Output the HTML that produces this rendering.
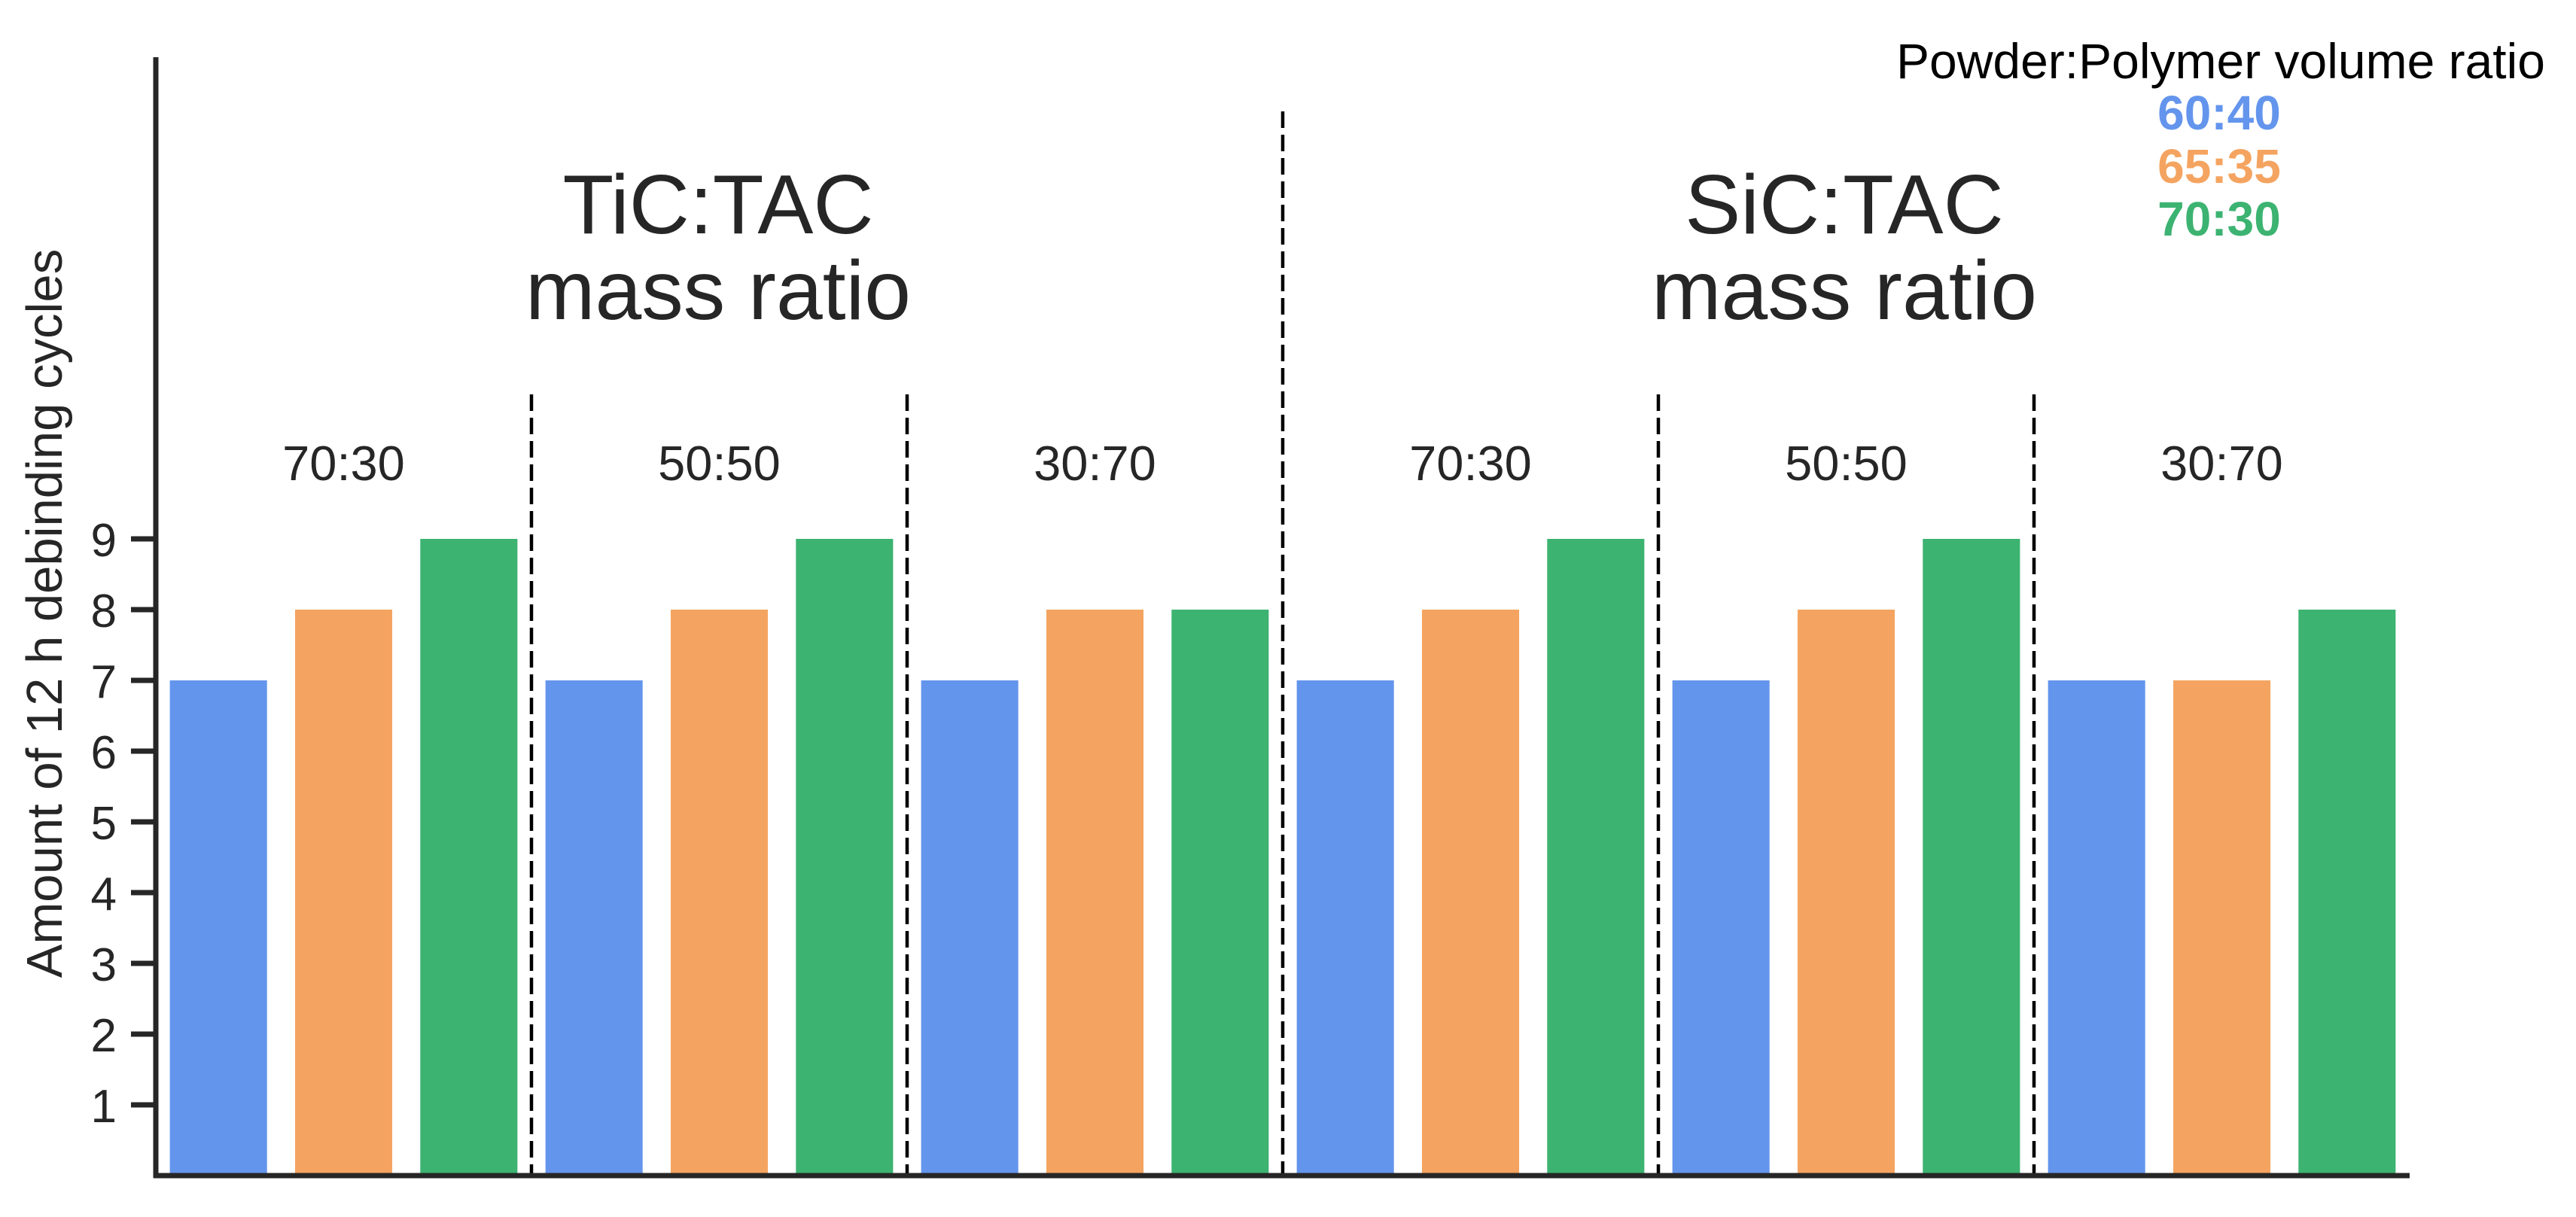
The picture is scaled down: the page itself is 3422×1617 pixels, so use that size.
<!DOCTYPE html>
<html><head><meta charset="utf-8"><style>
html,body{margin:0;padding:0;background:#fff;}
svg{display:block;font-family:"Liberation Sans",Arial,sans-serif;}
</style></head><body>
<svg id="chart" width="3422" height="1617" viewBox="0 0 3422 1617" xmlns="http://www.w3.org/2000/svg"></svg>
<script>
const categories = ["70:30","50:50","30:70","70:30","50:50","30:70"];
const seriesNames = ["60:40","65:35","70:30"];
const series6040 = [7,7,7,7,7,7];
const series6535 = [8,8,8,8,8,7];
const series7030 = [9,9,8,9,9,8];
const yTicks = [1,2,3,4,5,6,7,8,9];
const colors = ["#6495ED","#F4A460","#3CB371"];
const allSeries = [series6040, series6535, series7030];

const svg = document.getElementById('chart');
const NS = "http://www.w3.org/2000/svg";
const X0 = 207, X1 = 3201, Y0 = 1562, UNIT = 94;
const groupW = (X1 - X0) / categories.length;
function yScale(v){ return Y0 - v*UNIT; }
function xGroup(i){ return X0 + groupW*(i+0.5); }
function el(tag, attrs){ const e=document.createElementNS(NS,tag); for(const k in attrs) e.setAttribute(k,attrs[k]); svg.appendChild(e); return e; }

// bars
const slot = groupW/3, bw = slot*0.776;
categories.forEach((c,i)=>{
  allSeries.forEach((s,j)=>{
    const cx = xGroup(i) + (j-1)*slot;
    const r = el('rect',{x:cx-bw/2,y:yScale(s[i]),width:bw,height:Y0-yScale(s[i]),fill:colors[j]});
    
    
  });
  const t = el('text',{x:xGroup(i),y:638,'font-size':65,fill:'#262626','text-anchor':'middle'});
  t.textContent = c;
  
  
});

// dashed separators
for(let i=1;i<categories.length;i++){
  const x = X0 + groupW*i;
  const big = (i===3);
  const l = el('line',{x1:x,x2:x,y1:big?148:524,y2:Y0,stroke:'#000','stroke-width':4.5,'stroke-dasharray':'22,9'});
  
  
}

// axes
const ya = el('line',{x1:X0,x2:X0,y1:76,y2:Y0+3,stroke:'#262626','stroke-width':7});


const xa = el('line',{x1:X0-3,x2:X1,y1:Y0,y2:Y0,stroke:'#262626','stroke-width':7});


yTicks.forEach(v=>{
  const tk = el('line',{x1:X0-33,x2:X0,y1:yScale(v),y2:yScale(v),stroke:'#262626','stroke-width':7});
  
  
  const tl = el('text',{x:155,y:yScale(v)+23,'font-size':62,fill:'#262626','text-anchor':'end'});
  tl.textContent = v;
  
  
});
const yt = el('text',{x:0,y:0,'font-size':67,fill:'#262626','text-anchor':'middle',transform:'translate(82,815) rotate(-90)'});
yt.textContent = 'Amount of 12 h debinding cycles';



// material titles
[["TiC:TAC",954,"tic-title"],["SiC:TAC",2450,"sic-title"]].forEach(([txt,x,n])=>{
  const t1 = el('text',{x:x,y:310,'font-size':111,fill:'#262626','text-anchor':'middle'});
  t1.textContent = txt;
  
  
  const t2 = el('text',{x:x,y:424,'font-size':111,fill:'#262626','text-anchor':'middle'});
  t2.textContent = 'mass ratio';
  
  
});

// legend
const lt = el('text',{x:2950,y:104,'font-size':66,fill:'#000','text-anchor':'middle'});
lt.textContent = 'Powder:Polymer volume ratio';


const ly = [172,243,313];
seriesNames.forEach((n,j)=>{
  const t = el('text',{x:2948,y:ly[j],'font-size':64,'font-weight':'bold',fill:colors[j],'text-anchor':'middle'});
  t.textContent = n;
  
  
});
</script>
</body></html>
